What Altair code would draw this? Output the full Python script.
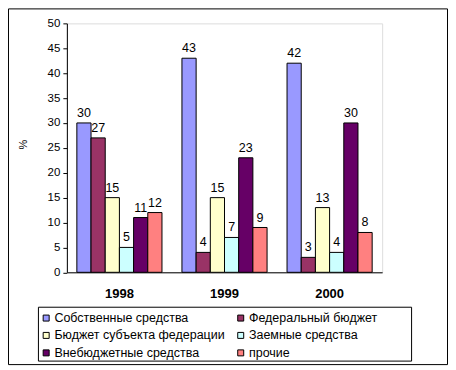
import altair as alt
import pandas as pd

years = ["1998", "1999", "2000"]
series = ["Собственные средства", "Федеральный бюджет", "Бюджет субъекта федерации",
          "Заемные средства", "Внебюджетные средства", "прочие"]
colors = ["#9999FF", "#993366", "#FFFFCC", "#CCFFFF", "#660066", "#FF8080"]
values = {
    "1998": [30, 27, 15, 5, 11, 12],
    "1999": [43, 4, 15, 7, 23, 9],
    "2000": [42, 3, 13, 4, 30, 8],
}
y_ticks = list(range(0, 51, 5))

rows = []
for y in years:
    for s, v in zip(series, values[y]):
        rows.append({"year": y, "series": s, "value": v})
df = pd.DataFrame(rows)

FONT = "Liberation Sans"

x_enc = alt.X("year:N", sort=years,
              scale=alt.Scale(paddingInner=0.19, paddingOuter=0.095),
              axis=alt.Axis(title=None, labelAngle=0, labelFontWeight="bold", labelFontSize=13,
                            labelFont=FONT, labelColor="black", ticks=False, domainColor="black",
                            labelPadding=15))
xo_enc = alt.XOffset("series:N", sort=series)
y_enc = alt.Y("value:Q", scale=alt.Scale(domain=[0, 50], nice=False),
              axis=alt.Axis(title="%", values=y_ticks, labelOverlap=False,
                            grid=False, domainColor="black",
                            tickColor="black", tickSize=4, labelFont=FONT, labelFontSize=11.5,
                            labelColor="black", labelPadding=3, titleFont=FONT,
                            titleFontWeight="normal", titleFontSize=11, titleColor="black",
                            titleX=-43, titleY=121, titleAngle=-90, titleBaseline="middle",
                            titleAlign="center"))

bars = alt.Chart(df).mark_bar(stroke="black", strokeWidth=1).encode(
    x=x_enc, xOffset=xo_enc, y=y_enc,
    color=alt.Color("series:N", sort=series,
                    scale=alt.Scale(domain=series, range=colors),
                    legend=alt.Legend(title=None, orient="none", legendX=-27, legendY=289,
                                      direction="horizontal", columns=2, columnPadding=9,
                                      rowPadding=4.5,
                                      symbolType="square", symbolSize=36,
                                      symbolStrokeColor="black", symbolStrokeWidth=1,
                                      symbolOpacity=1, labelFont=FONT, labelFontSize=12.5,
                                      labelColor="black", labelOffset=2,
                                      padding=0, labelLimit=300)),
)

labels = alt.Chart(df).mark_text(font=FONT, fontSize=12.5, color="black",
                                 baseline="alphabetic", dy=-6).encode(
    x=alt.X("year:N", sort=years), xOffset=xo_enc, y=y_enc, text="value:Q")

border = alt.Chart(pd.DataFrame({"a": [0]})).mark_rect(
    fill=None, stroke="black", strokeWidth=1).encode(
    x=alt.value(-58.5), x2=alt.value(381.5), y=alt.value(-14.5), y2=alt.value(342))

legend_box = alt.Chart(pd.DataFrame({"a": [0]})).mark_rect(
    fill="white", stroke="black", strokeWidth=1).encode(
    x=alt.value(-28.5), x2=alt.value(345.5), y=alt.value(284.5), y2=alt.value(338.5))

chart = alt.layer(border, legend_box, bars, labels).properties(
    width=316, height=249.5,
    autosize=alt.AutoSizeParams(type="none"),
    padding={"left": 59, "top": 15, "right": 66, "bottom": 93},
).configure_view(fill="#C0C0C0", stroke="#808080", strokeWidth=1).configure(
    background="white")

chart.save("out.html", embed_options={"renderer": "svg", "actions": False})
